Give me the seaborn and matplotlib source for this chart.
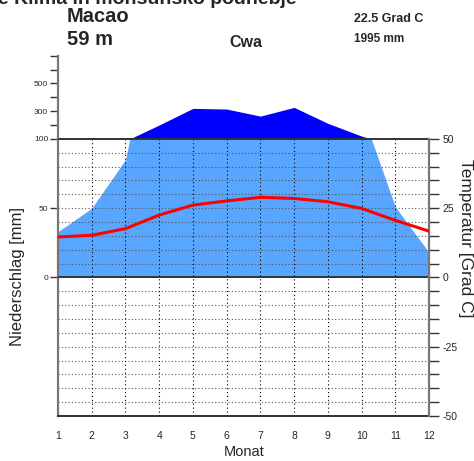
import numpy as np
import pandas as pd
import matplotlib
matplotlib.use("Agg")
import matplotlib.pyplot as plt
import seaborn as sns

# Monthly climate normals for Macao
months = [1, 2, 3, 4, 5, 6, 7, 8, 9, 10, 11, 12]
precip_mm = [33, 50, 85, 200, 320, 315, 264, 327, 212, 120, 51, 18]
temp_c = [14.6, 15.2, 17.6, 22.5, 26.1, 27.6, 28.9, 28.5, 27.3, 24.9, 20.6, 16.7]

station = "Macao"
elevation = "59 m"
koeppen = "Cwa"
annual_temp = "22.5 Grad C"
annual_precip = "1995 mm"
title = "e Klima in monsunsko podnebje"

precip_ticks = [0, 50, 100, 200, 300, 400, 500, 600, 700]
precip_ticklabels = ["0", "50", "100", "", "300", "", "500", "", ""]
temp_ticks = list(range(-50, 55, 5))
temp_labelled = {-50: "-50", -25: "-25", 0: "0", 25: "25", 50: "50"}

W, H = 474, 461
LIGHT = "#58A6FF"
DARK = "#0000FF"


def compress(p):
    """Precipitation above 100 mm is drawn at a tenth of the scale."""
    p = np.asarray(p, dtype=float)
    return np.where(p > 100, 100 + (p - 100) / 10.0, p)


sns.set_style("white")
plt.rcParams["font.family"] = ["Liberation Sans", "DejaVu Sans"]

fig = plt.figure(figsize=(W / 100, H / 100), dpi=100)
ax = fig.add_axes([58 / W, 45 / H, (429 - 58) / W, (416 - 55.7) / H])
ax.set_xlim(1, 12)
ax.set_ylim(-100, compress(700))

# precipitation areas (linear between months, capped / compressed above 100 mm)
xs = np.linspace(1, 12, 2201)
p_lin = np.interp(xs, months, precip_mm)
ax.fill_between(xs, 0, np.minimum(p_lin, 100), color=LIGHT, lw=0, zorder=1)
ax.fill_between(xs, 100, compress(p_lin), where=p_lin > 100,
                color=DARK, lw=0, zorder=1)

# grid
for t in temp_ticks:
    if t in (0, 50):
        continue
    ax.axhline(2 * t, color="#555555", lw=0.8, ls=(0, (1, 2)), zorder=2)
for m in months[1:-1]:
    ax.plot([m, m], [-100, 100], color="black", lw=0.8, ls=(0, (1, 2.5)), zorder=2)
ax.axhline(100, color="#333333", lw=1.4, zorder=3)
ax.axhline(0, color="#222222", lw=1.2, zorder=3)

# spines and ticks of the precipitation axis
for s in ("top", "right"):
    ax.spines[s].set_visible(False)
ax.spines["left"].set_color("#777777")
ax.spines["left"].set_linewidth(1.6)
ax.spines["bottom"].set_color("#222222")
ax.spines["bottom"].set_linewidth(1.3)
ax.set_yticks(compress(precip_ticks))
ax.set_yticklabels(precip_ticklabels)
ax.set_xticks(months)
ax.set_xticklabels([str(m) for m in months])
ax.tick_params(axis="y", direction="out", length=6, width=1, color="#333333",
               labelsize=6, pad=1)
ax.tick_params(axis="x", direction="out", length=6, width=1.2, color="#333333",
               labelsize=7.5, pad=5)
ax.set_xlabel("")
ax.set_ylabel("")

# temperature axis on the right
ax2 = ax.twinx()
ax2.set_ylim(-50, compress(700) / 2)
temp_df = pd.DataFrame({"Monat": months, "Temperatur": temp_c})
sns.lineplot(data=temp_df, x="Monat", y="Temperatur", ax=ax2, color="#FF0000",
             lw=2.2, zorder=5)
ax2.set_xlim(1, 12)
ax2.set_xlabel("")
ax2.set_ylabel("")
for s in ("top", "left", "bottom"):
    ax2.spines[s].set_visible(False)
ax2.spines["right"].set_visible(True)
ax2.spines["right"].set_bounds(-50, 50)
ax2.spines["right"].set_color("#777777")
ax2.spines["right"].set_linewidth(1.6)
ax2.set_yticks(temp_ticks)
ax2.set_yticklabels([temp_labelled.get(t, "") for t in temp_ticks])
ax2.tick_params(axis="y", direction="out", length=7, width=1, color="#333333",
                labelsize=7.5, pad=2.5, right=True, labelright=True)


def ftext(x, y, s, **kw):
    fig.text(x / W, 1 - y / H, s, **kw)


ftext(-2, 4, title, fontsize=14, fontweight="bold", ha="left", va="baseline")
ftext(67, 22, station, fontsize=14.5, fontweight="bold", ha="left", va="baseline")
ftext(67, 45, elevation, fontsize=14.5, fontweight="bold", ha="left", va="baseline")
ftext(229, 47, koeppen, fontsize=11.5, fontweight="bold", ha="left", va="baseline")
ftext(354, 22, annual_temp, fontsize=9, fontweight="bold", ha="left", va="baseline")
ftext(354, 42, annual_precip, fontsize=8.5, fontweight="bold", ha="left", va="baseline")

ftext(18, 277, "Niederschlag [mm]", fontsize=12, rotation=90, ha="center", va="center")
ftext(465, 238, "Temperatur [Grad C]", fontsize=12.5, rotation=270, ha="center", va="center")
ftext(244, 452, "Monat", fontsize=10.5, ha="center", va="center")

fig.savefig("out.png", dpi=100)
